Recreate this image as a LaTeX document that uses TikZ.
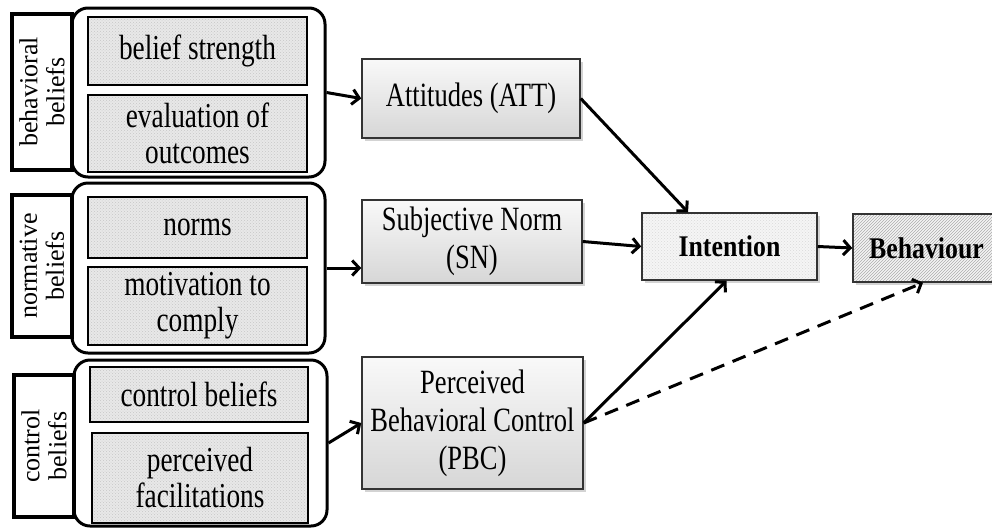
\documentclass[tikz,border=0pt]{standalone}
\usepackage{fontspec}
\setmainfont{Liberation Serif}
\newfontfamily\cnd[FakeStretch=0.78]{Liberation Serif}
\newfontfamily\cndb[FakeStretch=0.86]{Liberation Serif}
\usetikzlibrary{arrows.meta,patterns,shadows,calc}
\begin{document}
\begin{tikzpicture}[x=1pt,y=-1pt,
  lab/.style={draw, line width=3.4pt, rotate=90, align=center, inner sep=0pt,
    font=\fontsize{26}{27}\selectfont},
  grp/.style={draw, line width=3pt, rounded corners=16pt, inner sep=0pt},
  inbox/.style={draw, line width=2pt, preaction={fill=gray!18},
    pattern=crosshatch dots, pattern color=gray!45, align=center, inner sep=0pt,
    font=\cnd\fontsize{35}{36}\selectfont},
  shad/.style={drop shadow={shadow xshift=3pt, shadow yshift=-3pt, opacity=0.35, fill=gray}},
  midbox/.style={draw=black!80, line width=1.5pt, top color=gray!5, bottom color=gray!32,
    shad, align=center, inner sep=0pt, font=\cnd\fontsize{34}{38}\selectfont},
  outbox/.style={draw=black!80, line width=1.5pt, shad, align=center, inner sep=0pt,
    font=\cndb\bfseries\fontsize{30}{32}\selectfont},
  arr/.style={line width=3pt, -{Straight Barb[length=7pt,width=15pt]}},
  darr/.style={arr, dash pattern=on 14pt off 9pt}
]
\useasboundingbox (0,0) rectangle (992,528);

% group 1
\node[lab, minimum width=156, minimum height=60] (lab1) at (42,92) {behavioral\\beliefs};
\node[grp, minimum width=253, minimum height=169] (grp1) at (198.5,92.5) {};
\node[inbox, minimum width=219, minimum height=68] (bs) at (197.5,51) {belief strength};
\node[inbox, minimum width=219, minimum height=77] (eo) at (197.5,133.5) {evaluation of\\outcomes};

% group 2
\node[lab, minimum width=142, minimum height=60] (lab2) at (42,266) {normative\\beliefs};
\node[grp, minimum width=253, minimum height=170] (grp2) at (198.5,268) {};
\node[inbox, minimum width=219, minimum height=61] (nm) at (197.5,227.5) {norms};
\node[inbox, minimum width=219, minimum height=78] (mc) at (197.5,306) {motivation to\\comply};

% group 3
\node[lab, minimum width=142, minimum height=60] (lab3) at (44,446) {control\\beliefs};
\node[grp, minimum width=253, minimum height=166] (grp3) at (200.5,443) {};
\node[inbox, minimum width=218, minimum height=55] (cb) at (199,394.5) {control beliefs};
\node[inbox, minimum width=216, minimum height=90] (pf) at (200,478) {perceived\\facilitations};

% middle
\node[midbox, minimum width=218, minimum height=79] (att) at (471,98.5) {Attitudes (ATT)};
\node[midbox, minimum width=220, minimum height=83] (sn) at (472,241.5) {Subjective Norm\\(SN)};
\node[midbox, minimum width=221, minimum height=132] (pbc) at (472.5,423) {Perceived\\Behavioral Control\\(PBC)};

% right
\node[outbox, preaction={fill=gray!8}, pattern=crosshatch dots, pattern color=gray!30,
  minimum width=175, minimum height=67] (int) at (729.5,246.5) {Intention};
\node[outbox, preaction={fill=gray!8}, pattern=north east lines, pattern color=gray!65,
  minimum width=147, minimum height=68] (beh) at (926.5,248) {Behaviour};

% connectors
\draw[arr] (grp1.east) -- (att.west);
\draw[arr] (grp2.east) -- (grp2.east -| sn.west);
\draw[arr] (grp3.east) -- (pbc.west);
\draw[arr] (att.east) -- ([xshift=-41.5pt]int.north);
\draw[arr] (sn.east) -- (int.west);
\draw[arr] (pbc.east) -- ([xshift=-3pt]int.south);
\draw[darr] (pbc.east) -- ([xshift=-3.5pt]beh.south);
\draw[arr] (int.east) -- (beh.west);
\end{tikzpicture}
\end{document}
